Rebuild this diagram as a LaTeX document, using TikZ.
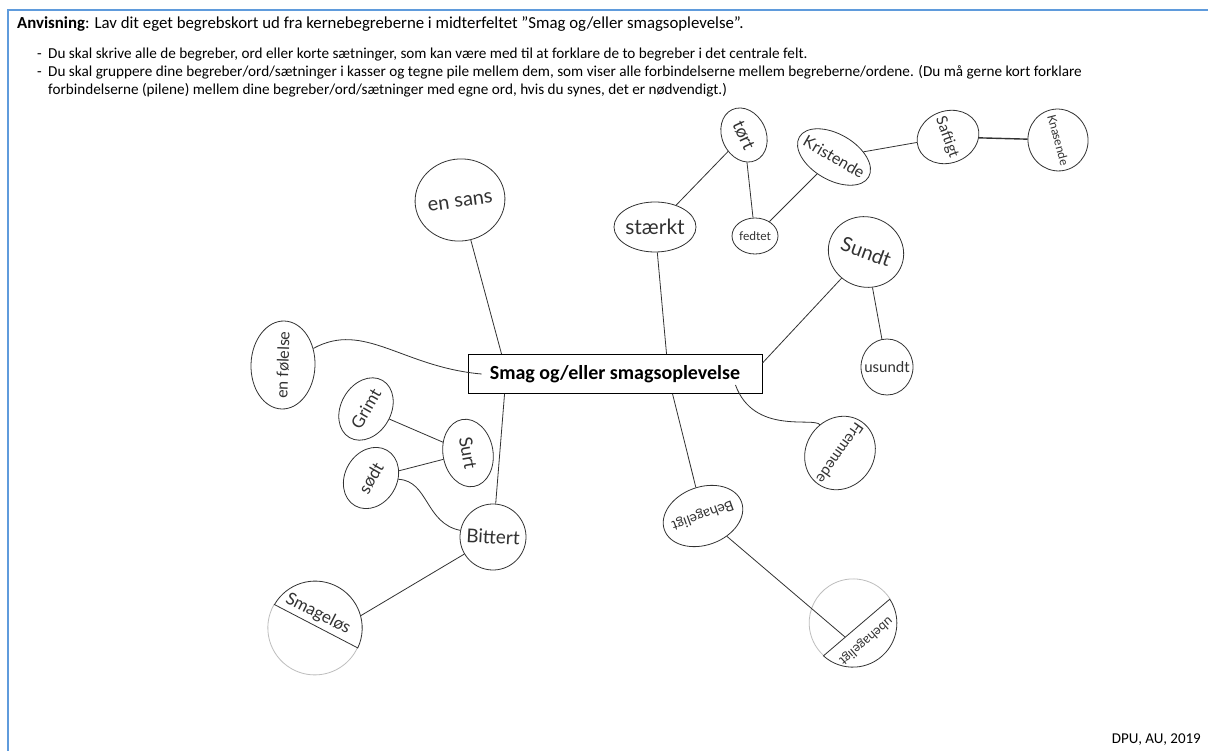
\documentclass[tikz,border=0pt]{standalone}
\usepackage{fontspec}
\setmainfont{Carlito}
\newfontfamily\hand{Lato}
\usetikzlibrary{shapes.geometric,calc}
\definecolor{inkc}{RGB}{50,50,50}
\definecolor{faint}{RGB}{190,190,190}
\definecolor{framec}{RGB}{95,155,220}
% zero-size label so the blob keeps its own drawn size
\newcommand\hw[1]{\makebox[0pt]{\smash{\raisebox{-0.35em}{#1}}}}
\newcommand\hs[1]{\hand\fontsize{#1}{#1}\selectfont}
\tikzset{
  ink/.style={draw=inkc, line width=0.8pt},
  blob/.style={ellipse, ink, inner sep=0pt, text=inkc, font=\hs{16}},
  roundblob/.style={circle, ink, inner sep=0pt, text=inkc, font=\hs{16}},
  handtext/.style={inner sep=0pt, text=inkc, font=\hs{16}},
  link/.style={draw=inkc, line width=0.8pt},
  head/.style={anchor=base west, inner sep=0pt, font=\fontsize{15.2}{17}\selectfont},
}
\begin{document}
\begin{tikzpicture}[x=1pt,y=-1pt]
\useasboundingbox (0,0) rectangle (1208,751);
\fill[white] (0,0) rectangle (1208,751);
% page frame
\draw[framec, line width=2.2pt] (8,751) -- (8,10) -- (1210,10);

% instructions
\node[head, font=\fontsize{16.8}{18}\selectfont] (h1) at (17,29) {\textbf{Anvisning}: Lav dit eget begrebskort ud fra kernebegreberne i midterfeltet ”Smag og/eller smagsoplevelse”.};
\node[head] (d1) at (37,59) {-};
\node[head] (t1) at (48,59) {Du skal skrive alle de begreber, ord eller korte sætninger, som kan være med til at forklare de to begreber i det centrale felt.};
\node[head] (d2) at (37,77) {-};
\node[head] (t2) at (48,77) {Du skal gruppere dine begreber/ord/sætninger i kasser og tegne pile mellem dem, som viser alle forbindelserne mellem begreberne/ordene. (Du må gerne kort forklare};
\node[head] (t3) at (48,95) {forbindelserne (pilene) mellem dine begreber/ord/sætninger med egne ord, hvis du synes, det er nødvendigt.)};

% central box
\node[draw=black, line width=0.9pt, minimum width=294, minimum height=39, inner sep=0pt,
      font=\bfseries\fontsize{20}{20}\selectfont] (box) at (615,374) {Smag og/eller smagsoplevelse};

% left cluster
\node[blob, minimum width=90, minimum height=82, rotate=8, font=\hs{20}] (ensans) at (460,200) {\hw{en sans}};
\node[blob, minimum width=88, minimum height=64, rotate=88] (enfol) at (283,365) {\hw{en følelse}};
\node[blob, minimum width=66, minimum height=50, rotate=60, font=\hs{17}] (grimt) at (366,409) {\hw{Grimt}};
\node[blob, minimum width=68, minimum height=50, rotate=-80, font=\hs{18}] (surt) at (468,453) {\hw{Surt}};
\node[blob, minimum width=64, minimum height=52, rotate=60, font=\hs{17}] (sodt) at (371,478) {\hw{sødt}};
\node[roundblob, minimum size=66, rotate=-3, font=\hs{19}] (bitter) at (493,537) {\hw{Bittert}};
\node[circle, inner sep=0pt, minimum size=94] (smag) at (315,628) {};
\draw[faint, line width=0.8pt] (smag.150) arc[start angle=-150, end angle=-335, radius=47];
\draw[ink] (smag.-25) arc[start angle=25, end angle=-150, radius=47] -- cycle;
\node[handtext, rotate=-27, font=\hs{17}] (smagt) at (318,614) {Smageløs};

% right cluster
\node[blob, minimum width=82, minimum height=50, font=\hs{21}] (staerk) at (655,227) {\hw{stærkt}};
\node[blob, minimum width=56, minimum height=44, rotate=-65, font=\hs{18}] (tort) at (744,135) {\hw{tørt}};
\node[blob, minimum width=46, minimum height=36, font=\hs{12}] (fedt) at (755,236) {\hw{fedtet}};
\node[blob, minimum width=80, minimum height=46, rotate=-30, font=\hs{16}] (krist) at (834,157) {\hw{Kristende}};
\node[blob, minimum width=52, minimum height=63, rotate=-70, font=\hs{15}] (saft) at (948,137) {\hw{Saftigt}};
\node[blob, minimum width=62, minimum height=60, rotate=-75, font=\hs{12}] (knas) at (1058,140) {\hw{Knasende}};
\node[blob, minimum width=76, minimum height=70, rotate=-20, font=\hs{20}] (sundt) at (866,252) {\hw{Sundt}};
\node[blob, minimum width=52, minimum height=56, font=\hs{15}] (usundt) at (887,367) {\hw{usundt}};
\node[blob, minimum width=76, minimum height=68, rotate=-125, font=\hs{15}] (fremd) at (840,453) {\hw{Fremmede}};
\node[blob, minimum width=82, minimum height=58, rotate=-160, font=\hs{14}] (behag) at (703,516) {\hw{Behageligt}};
\node[circle, inner sep=0pt, minimum size=88] (ubehag) at (853,623) {};
\draw[faint, line width=0.8pt] (ubehag.33) arc[start angle=-33, end angle=-228, radius=44];
\draw[ink] (ubehag.228) arc[start angle=-228, end angle=-393, radius=44] -- cycle;
\node[handtext, rotate=-139, font=\hs{13}] (ubehagt) at (866,641) {ubehageligt};

% connections
\draw[link] (ensans) -- ($(box.north west)+(34,0)$);
\draw[link] (enfol) to[out=0, in=175] ($(box.west)+(14,0)$);
\draw[link] (grimt) -- (surt);
\draw[link] (sodt) -- (surt);
\draw[link] (sodt) to[out=-30, in=170] (bitter);
\draw[link] ($(box.south west)+(37,0)$) -- (bitter);
\draw[link] (bitter) -- (smag.15);
\draw[link] (staerk) -- ($(box.north west)+(199,0)$);
\draw[link] (staerk) -- (tort);
\draw[link] (tort) -- (fedt);
\draw[link] (fedt) -- (krist);
\draw[link] (krist) -- (saft);
\draw[link, line width=1.4pt] (saft) -- (knas);
\draw[link] (sundt) -- ($(box.north east)+(0,9)$);
\draw[link] (sundt) -- (usundt);
\draw[link] ($(box.south east)+(-27,-9)$) to[out=-70, in=170] (fremd);
\draw[link] ($(box.south west)+(205,0)$) -- (behag);
\draw[link] (behag) -- ($(ubehag.center)+(-8,14)$);

% footer
\node[anchor=base east, inner sep=0pt, font=\fontsize{15}{15}\selectfont] (foot) at (1201,743) {DPU, AU, 2019};
\end{tikzpicture}
\end{document}
